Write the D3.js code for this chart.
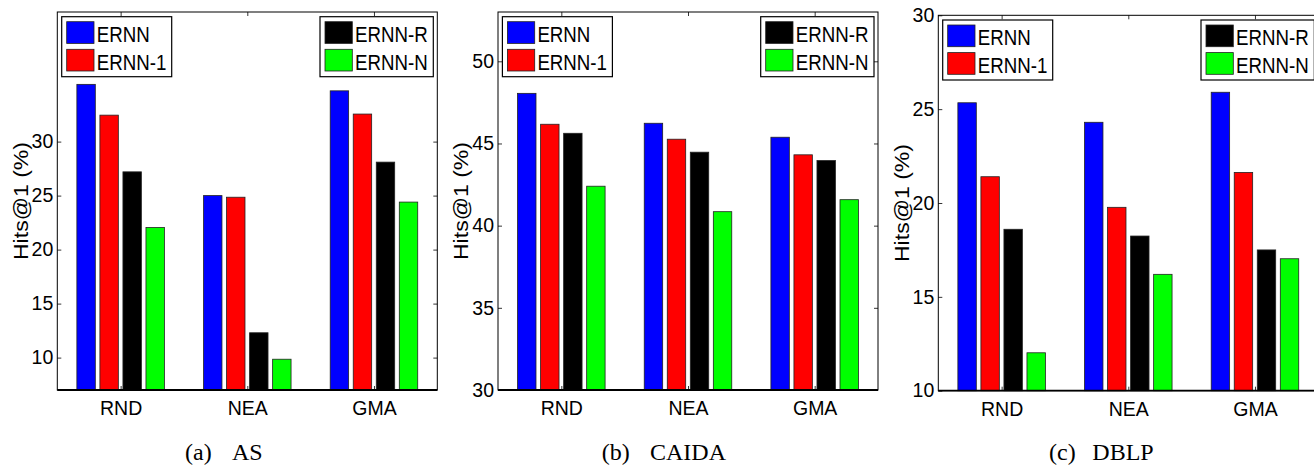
<!DOCTYPE html>
<html><head><meta charset="utf-8">
<script src="https://cdn.jsdelivr.net/npm/d3@7"></script>
<style>body{margin:0;background:#fff} svg{display:block}</style>
</head><body>
<script>
// ---------- data ----------
const categories = ["RND", "NEA", "GMA"];
const seriesNames = ["ERNN", "ERNN-1", "ERNN-R", "ERNN-N"];
const seriesColors = ["#0000ff", "#ff0000", "#000000", "#00ff00"];
// values per category, in series order [ERNN, ERNN-1, ERNN-R, ERNN-N]
const asValues    = [[35.3, 32.45, 27.2, 22.05], [25.0, 24.85, 12.3, 9.85], [34.7, 32.55, 28.1, 24.4]];
const caidaValues = [[48.05, 46.17, 45.62, 42.4], [46.23, 45.26, 44.47, 40.85], [45.38, 44.31, 43.96, 41.58]];
const dblpValues  = [[25.34, 21.4, 18.6, 12.02], [24.3, 19.77, 18.24, 16.2], [25.9, 21.63, 17.5, 17.03]];
const asTicks = [10, 15, 20, 25, 30];
const caidaTicks = [30, 35, 40, 45, 50];
const dblpTicks = [10, 15, 20, 25, 30];
const asDomain = [7, 42];
const caidaDomain = [30, 53];
const dblpDomain = [10, 30];
const captionLabels = ["(a)", "(b)", "(c)"];
const captionNames = ["AS", "CAIDA", "DBLP"];
const yLabel = "Hits@1 (%)";

// ---------- layout ----------
const W = 1314, H = 466;
const sans = "'Liberation Sans Narrow', 'Liberation Sans', Arial, sans-serif";
const serif = "'Liberation Serif', 'DejaVu Serif', serif";
const panels = [
  {values: asValues, ticks: asTicks, domain: asDomain, left: 57.3, top: 12, bottom: 390, capA: 127.7, capB: 176},
  {values: caidaValues, ticks: caidaTicks, domain: caidaDomain, left: 498, top: 12, bottom: 390, capA: 103.7, capB: 152},
  {values: dblpValues, ticks: dblpTicks, domain: dblpDomain, left: 938.3, top: 15.3, bottom: 390.7, capA: 110.7, capB: 154}
];
const axW = 380;

const svg = d3.select("body").append("svg").attr("width", W).attr("height", H)
  .attr("viewBox", `0 0 ${W} ${H}`);

const nS = seriesNames.length;
const groupW = Math.min(0.8, nS / (nS + 1.5));
const step = groupW / nS;
const barW = step * 0.8;

panels.forEach((p, pi) => {
  const L = p.left, T = p.top, B = p.bottom, R = L + axW;
  const x = d3.scaleLinear().domain([0.5, categories.length + 0.5]).range([L, R]);
  const y = d3.scaleLinear().domain(p.domain).range([B, T]);
  const g = svg.append("g");

  // bars
  const flat = [];
  p.values.forEach((row, ci) => row.forEach((v, si) => flat.push({ci, si, v})));
  g.selectAll("rect.bar").data(flat).join("rect").attr("class", "bar")
    .attr("x", d => x(d.ci + 1 + (d.si - (nS - 1) / 2) * step - barW / 2))
    .attr("width", d => x(barW) - x(0))
    .attr("y", d => y(d.v))
    .attr("height", d => y(p.domain[0]) - y(d.v))
    .attr("fill", d => seriesColors[d.si])
    .attr("stroke", "#222").attr("stroke-width", 0.8);

  // axes
  const yl = g.append("g").attr("transform", `translate(${L},0)`)
    .call(d3.axisLeft(y).tickValues(p.ticks).tickSizeInner(-4).tickSizeOuter(0).tickPadding(4).tickFormat(d3.format("d")));
  const yr = g.append("g").attr("transform", `translate(${R},0)`)
    .call(d3.axisRight(y).tickValues(p.ticks).tickSizeInner(-4).tickSizeOuter(0).tickFormat(""));
  const xt = g.append("g").attr("transform", `translate(0,${T})`)
    .call(d3.axisTop(x).tickValues(d3.range(1, categories.length + 1)).tickSizeInner(-4).tickSizeOuter(0).tickFormat(""));
  const xb = g.append("g").attr("transform", `translate(0,${B})`)
    .call(d3.axisBottom(x).tickValues(d3.range(1, categories.length + 1)).tickSizeInner(-4).tickSizeOuter(0)
      .tickPadding(11).tickFormat(d => categories[d - 1]));
  [yl, yr, xt, xb].forEach(a => {
    a.select(".domain").remove();
    a.selectAll(".tick line").attr("stroke", "#000").attr("stroke-width", 0.8);
    a.selectAll("text").attr("font-family", sans).attr("font-size", 19.5).attr("fill", "#000");
  });

  // frame
  g.append("rect").attr("x", L).attr("y", T).attr("width", axW).attr("height", B - T)
    .attr("fill", "none").attr("stroke", "#000").attr("stroke-width", 1);
  g.append("line").attr("x1", L).attr("x2", R).attr("y1", B).attr("y2", B)
    .attr("stroke", "#000").attr("stroke-width", 1.8);

  // legends
  const boxes = [
    {bx: L + 4.4, w: 110, items: [0, 1]},
    {bx: R - 4 - 113.3, w: 113.3, items: [2, 3]}
  ];
  boxes.forEach(b => {
    const by = T + 4.7;
    const lg = g.append("g");
    lg.append("rect").attr("x", b.bx).attr("y", by).attr("width", b.w).attr("height", 60)
      .attr("fill", "#fff").attr("stroke", "#000").attr("stroke-width", 1.2);
    b.items.forEach((si, k) => {
      lg.append("rect").attr("x", b.bx + 5).attr("y", by + 5 + k * 27.6)
        .attr("width", 27.3).attr("height", 21.7)
        .attr("fill", seriesColors[si]).attr("stroke", "#222").attr("stroke-width", 0.8);
      lg.append("text").attr("transform", `translate(${b.bx + 35},${by + 25 + k * 28.3}) scale(0.85,1)`)
        .attr("font-family", sans).attr("font-size", 22).attr("fill", "#000")
        .text(seriesNames[si]);
    });
  });

  // y label
  g.append("text").attr("transform", `translate(${L - 29.7},${(T + B) / 2}) rotate(-90)`)
    .attr("text-anchor", "middle").attr("font-family", sans).attr("font-size", 21).attr("fill", "#000")
    .attr("textLength", 118).attr("lengthAdjust", "spacingAndGlyphs")
    .text(yLabel);

  // caption
  const cap = g.append("text").attr("y", 460).attr("font-family", serif).attr("font-size", 24).attr("fill", "#000");
  cap.append("tspan").attr("x", L + p.capA).text(captionLabels[pi]);
  cap.append("tspan").attr("x", L + p.capB - 6).attr("xml:space", "preserve").text(" " + captionNames[pi]);
});
</script>
</body></html>
